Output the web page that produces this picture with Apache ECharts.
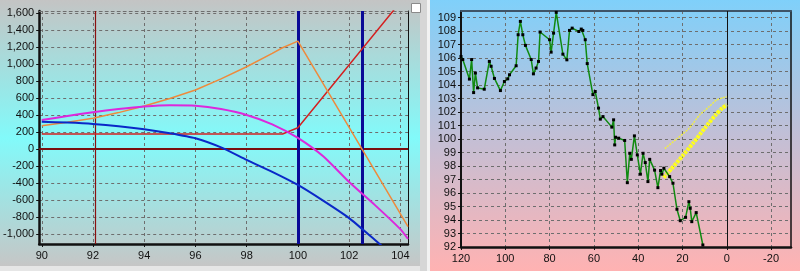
<!DOCTYPE html>
<html><head><meta charset="utf-8">
<script src="https://cdn.jsdelivr.net/npm/echarts@6/dist/echarts.min.js"></script>
<style>html,body{margin:0;padding:0;background:#fff}#c{width:800px;height:271px}</style>
</head><body><div id="c"></div>
<script>
// ---- Left panel data ----
const leftXTicks = [90, 92, 94, 96, 98, 100, 102, 104];
const leftYTicks = [-1000, -800, -600, -400, -200, 0, 200, 400, 600, 800, 1000, 1200, 1400, 1600];
const orangeX = [90, 91, 92, 93, 94, 95, 96, 97, 98, 99, 99.4, 100, 102.5, 104.3];
const orangeY = [274, 315, 361, 428, 506, 595, 694, 825, 968, 1125, 1192, 1270, 0, -914];
const magentaX = [90, 91, 92, 93, 94, 95, 96, 97, 98, 99, 100, 101, 102, 103, 104, 104.3];
const magentaY = [341, 388, 432, 470, 500, 515, 510, 470, 400, 290, 130, -90, -390, -659, -945, -1060];
const blueX = [90, 91, 92, 93, 94, 95, 96, 97, 98, 99, 100, 101, 102, 103, 103.5];
const blueY = [321, 310, 294, 268, 232, 185, 126, 18, -129, -270, -424, -612, -815, -1070, -1200];
const redX = [90, 99.4, 100, 104.3];
const redY = [176, 176, 250, 1841];
const strikeLines = [100, 102.5];
const spotLine = 92.1;

// ---- Right panel data ----
const rightXTicks = [120, 100, 80, 60, 40, 20, 0, -20];
const rightYTicks = [92, 93, 94, 95, 96, 97, 98, 99, 100, 101, 102, 103, 104, 105, 106, 107, 108, 109];
const greenX = [120, 119.2, 116.2, 115.2, 114.3, 113.5, 112.5, 109.5, 107.2, 106.4, 104.9, 102.2, 100.4, 98.9, 98.1, 95.1, 94.2, 93.2, 92.1, 90.9, 88.3, 87.3, 86.1, 85.0, 84.3, 80.0, 79.3, 78.2, 77.0, 74.0, 72.2, 71.0, 69.8, 66.8, 65.7, 65.0, 63.9, 63.0, 60.45, 59.4, 57.9, 57.1, 55.9, 51.9, 51.1, 50.6, 50.2, 48.8, 46.1, 44.9, 43.8, 43.1, 41.7, 40.4, 39.0, 37.8, 36.8, 35.6, 34.8, 32.6, 31.1, 29.9, 29.3, 28.4, 25.8, 24.3, 22.5, 21.0, 18.6, 17.1, 16.5, 15.8, 13.8, 10.8];
const greenY = [106.13, 105.9, 104.45, 105.9, 103.45, 104.9, 103.8, 103.7, 105.76, 105.4, 104.5, 103.6, 104.27, 104.47, 104.77, 105.44, 107.74, 108.73, 107.74, 106.95, 105.9, 104.84, 105.27, 105.76, 107.94, 107.37, 106.45, 107.86, 109.4, 106.3, 105.88, 108.06, 108.23, 107.98, 108.16, 108.06, 107.37, 105.6, 103.3, 103.53, 102.3, 101.48, 101.67, 100.89, 101.43, 99.57, 100.14, 100.07, 99.9, 96.77, 98.95, 98.5, 100.24, 98.83, 97.4, 98.95, 98.26, 96.85, 98.5, 97.7, 96.4, 97.67, 97.4, 97.84, 97.22, 96.73, 94.8, 93.95, 94.2, 95.36, 94.87, 93.88, 94.55, 92.15];
const yellowX = [28.5, 25, 20, 15, 10, 5, 2, 0];
const yellowY = [97.15, 97.8, 98.75, 99.75, 100.8, 101.8, 102.3, 102.55];
const paleX = [28, 22.7, 17, 12.2, 8, 4.7, 2, 0];
const paleY = [99.3, 100.0, 100.8, 101.8, 102.4, 102.9, 103.05, 103.15];
const nowLine = 0;

const zip = (xs, ys) => xs.map((x, i) => [x, ys[i]]);
const font = {fontFamily: 'Liberation Sans', fontSize: 11, color: '#111'};
const dashed = {show: true, lineStyle: {color: '#6e6e6e', type: [3, 3], width: 1}};

const chart = echarts.init(document.getElementById('c'), null, {renderer: 'canvas'});
chart.setOption({
  animation: false,
  graphic: {elements: [
    {type: 'rect', z: -100, silent: true, shape: {x: 0, y: 0, width: 420, height: 266},
     style: {fill: new echarts.graphic.LinearGradient(0, 0, 0, 1, [
       {offset: 0, color: '#c4c4c4'}, {offset: 0.52, color: '#82fafa'}, {offset: 1, color: '#c6c6c6'}])}},
    {type: 'rect', z: -100, silent: true, shape: {x: 0, y: 266, width: 420, height: 5}, style: {fill: '#e6e6e6'}},
    {type: 'rect', z: -100, silent: true, shape: {x: 420, y: 0, width: 7, height: 271}, style: {fill: '#d6d6d6'}},
    {type: 'rect', z: -100, silent: true, shape: {x: 427, y: 0, width: 3, height: 271}, style: {fill: '#f2f2f2'}},
    {type: 'rect', z: -100, silent: true, shape: {x: 430, y: 0, width: 370, height: 271},
     style: {fill: new echarts.graphic.LinearGradient(0, 0, 0, 1, [
       {offset: 0, color: '#7fd0fa'}, {offset: 0.5, color: '#c2bfd6'}, {offset: 1, color: '#ffb2b2'}])}},
    {type: 'rect', z: 100, silent: true, shape: {x: 411.5, y: 3.5, width: 9, height: 9},
     style: {fill: '#ffffff', stroke: '#8a8a8a', lineWidth: 1}}
  ]},
  grid: [
    {left: 37, top: 11, width: 371, height: 233, show: false},
    {left: 461, top: 11, width: 330, height: 236, show: false}
  ],
  xAxis: [
    {type: 'value', gridIndex: 0, min: 89.9, max: 104.3,
     axisLine: {show: true, onZero: false, lineStyle: {color: '#111', width: 2.5}},
     axisTick: {show: true, customValues: leftXTicks, length: 3, lineStyle: {color: '#111'}},
     axisLabel: {customValues: leftXTicks, margin: 6, ...font},
     splitLine: dashed},
    {type: 'value', gridIndex: 1, min: -29, max: 120, inverse: true,
     axisLine: {show: true, onZero: false, lineStyle: {color: '#111', width: 2.5}},
     axisTick: {show: true, customValues: rightXTicks, length: 3, lineStyle: {color: '#111'}},
     axisLabel: {customValues: rightXTicks, margin: 6, ...font},
     splitLine: dashed},
    {type: 'value', gridIndex: 0, position: 'top', min: 89.9, max: 104.3, axisLine: {show: true, onZero: false, lineStyle: {color: '#6f6f6f', width: 1, type: [3, 3]}}, axisTick: {show: false}, axisLabel: {show: false}, splitLine: {show: false}},
    {type: 'value', gridIndex: 1, position: 'top', min: -29, max: 120, inverse: true, axisLine: {show: true, onZero: false, lineStyle: {color: '#3e5468', width: 2}}, axisTick: {show: false}, axisLabel: {show: false}, splitLine: {show: false}}
  ],
  yAxis: [
    {type: 'value', gridIndex: 0, min: -1120, max: 1625,
     axisLine: {show: true, onZero: false, lineStyle: {color: '#111', width: 2.5}},
     axisTick: {show: true, customValues: leftYTicks, length: 3, lineStyle: {color: '#111'}},
     axisLabel: {customValues: leftYTicks, margin: 5, ...font, formatter: v => v.toLocaleString('en-US')},
     splitLine: dashed},
    {type: 'value', gridIndex: 1, min: 92, max: 109.5,
     axisLine: {show: true, onZero: false, lineStyle: {color: '#111', width: 2}},
     axisTick: {show: true, customValues: rightYTicks, length: 3, lineStyle: {color: '#111'}},
     axisLabel: {customValues: rightYTicks, margin: 5, ...font},
     splitLine: dashed},
    {type: 'value', gridIndex: 0, position: 'right', min: -1120, max: 1625, axisLine: {show: true, onZero: false, lineStyle: {color: '#111', width: 1}}, axisTick: {show: false}, axisLabel: {show: false}, splitLine: {show: false}},
    {type: 'value', gridIndex: 1, position: 'right', min: 92, max: 109.5, axisLine: {show: true, onZero: false, lineStyle: {color: '#111', width: 1.5}}, axisTick: {show: false}, axisLabel: {show: false}, splitLine: {show: false}}
  ],
  series: [
    {type: 'line', xAxisIndex: 0, yAxisIndex: 0, data: zip(redX, redY), showSymbol: false,
     lineStyle: {color: '#d42020', width: 1.5}, z: 5,
     markLine: {silent: true, symbol: 'none', label: {show: false},
       data: [
         {xAxis: spotLine, lineStyle: {color: '#8a1010', width: 1.2, type: 'solid'}},
         {yAxis: 0, lineStyle: {color: '#7a1010', width: 2, type: 'solid'}},
         {xAxis: strikeLines[0], lineStyle: {color: '#0a0a96', width: 3, type: 'solid'}},
         {xAxis: strikeLines[1], lineStyle: {color: '#0a0a96', width: 3, type: 'solid'}}
       ]}},
    {type: 'line', xAxisIndex: 0, yAxisIndex: 0, data: zip(orangeX, orangeY), showSymbol: false,
     lineStyle: {color: '#ee8a3c', width: 1.5}, z: 6},
    {type: 'line', xAxisIndex: 0, yAxisIndex: 0, data: zip(magentaX, magentaY), showSymbol: false, smooth: 0.2,
     lineStyle: {color: '#dc28dc', width: 2}, z: 6},
    {type: 'line', xAxisIndex: 0, yAxisIndex: 0, data: zip(blueX, blueY), showSymbol: false, smooth: 0.2,
     lineStyle: {color: '#0a28c8', width: 2}, z: 6},
    {type: 'line', xAxisIndex: 1, yAxisIndex: 1, data: zip(paleX, paleY), showSymbol: false, smooth: 0.2,
     lineStyle: {color: '#f0ec48', width: 1.5, type: [2, 1]}, z: 5,
     markLine: {silent: true, symbol: 'none', label: {show: false},
       data: [{xAxis: nowLine, lineStyle: {color: '#111', width: 1, type: 'solid'}}]}},
    {type: 'line', xAxisIndex: 1, yAxisIndex: 1, data: zip(yellowX, yellowY), showSymbol: false, smooth: 0.2,
     lineStyle: {color: '#ffff1a', width: 4, type: [3, 1]}, z: 6},
    {type: 'line', xAxisIndex: 1, yAxisIndex: 1, data: zip(greenX, greenY), symbol: 'rect', symbolSize: 3, showSymbol: true,
     itemStyle: {color: '#000'}, lineStyle: {color: '#108a10', width: 1.5}, z: 7}
  ]
});
</script></body></html>
